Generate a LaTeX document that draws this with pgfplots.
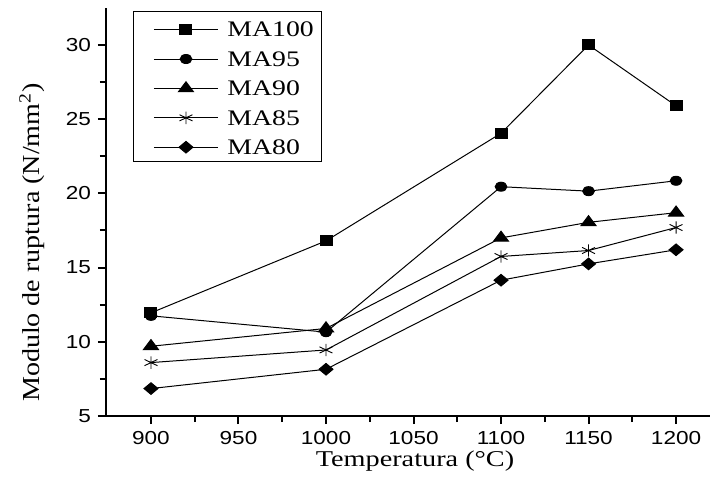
\documentclass[border=0pt]{standalone}
\usepackage{fontspec}
\setmainfont{Liberation Serif}[FakeStretch=1.25]
\newfontfamily\ylfont{Liberation Serif}[FakeStretch=1.15]
\newfontfamily\tickfont{Liberation Sans}[FakeStretch=1.2]
\usepackage{pgfplots}
\usepackage{pgfplotstable}
\pgfplotsset{compat=1.18}
\pgfplotstableread{
T    MAa    MAb    MAc    MAd    MAe
900  11.95  11.75  9.7    8.6    6.85
1000 16.8   10.65  10.9   9.45   8.15
1100 24.05  20.45  17.0   15.75  14.15
1150 30.0   20.15  18.05  16.15  15.25
1200 25.9   20.85  18.7   17.7   16.2
}\datatable
\begin{document}
\begin{tikzpicture}
\begin{axis}[
  name=ax,
  scale only axis,
  width=302pt, height=204pt,
  xmin=874.3, xmax=1219.4,
  ymin=5, ymax=32.49,
  axis x line*=bottom, axis y line*=left,
  axis line style={-, line width=1.4pt},
  xtick={900,950,...,1200},
  ytick={5,10,...,30},
  minor x tick num=1, minor y tick num=1,
  tick align=outside,
  major tick length=4pt, minor tick length=3pt,
  every tick/.style={black, line width=1pt},
  /pgf/number format/assume math mode=true,
  /pgf/number format/1000 sep={},
  tick label style={font=\tickfont\fontsize{9.4}{11}\selectfont},
  xlabel={Temperatura (°C)},
  ylabel={\ylfont Modulo de ruptura (N/mm\textsuperscript{2})},
  every axis x label/.style={at={(axis description cs:0.5116,-0.124)}, anchor=base, font=\fontsize{11.3}{13}\selectfont},
  every axis y label/.style={at={(axis description cs:-0.1225,0.425)}, rotate=90, anchor=center, font=\fontsize{12.2}{14}\selectfont},
  legend cell align=left,
  legend style={at={(axis description cs:0.0447,0.9936)}, anchor=north west,
    draw=black, line width=0.5pt, inner xsep=4pt, inner ysep=2.4pt,
    font=\fontsize{11.1}{13}\selectfont,
    nodes={inner sep=0pt, text height=10.5pt, text depth=1pt},
    row sep=3.2pt, column sep=4.5pt},
  legend image code/.code={%
    \path (-6pt,0pt);
    \draw[mark repeat=2,mark phase=2] plot coordinates {(0pt,-1.1pt) (16pt,-1.1pt) (32pt,-1.1pt)};},
  every axis plot/.append style={black, line width=0.5pt},
]
\addplot[mark=square*, mark size=2.5pt, mark options={xscale=1.2, solid}] table[x=T, y=MAa] {\datatable};
\addlegendentry{MA100}
\addplot[mark=*, mark size=2.25pt, mark options={xscale=1.3}] table[x=T, y=MAb] {\datatable};
\addlegendentry{MA95}
\addplot[mark=triangle*, mark size=3.33pt, mark options={xscale=1.3}] table[x=T, y=MAc] {\datatable};
\addlegendentry{MA90}
\addplot[mark=asterisk, mark size=3.1pt, mark options={xscale=1.2, line width=0.45pt}] table[x=T, y=MAd] {\datatable};
\addlegendentry{MA85}
\addplot[mark=diamond*, mark size=2.9pt, mark options={xscale=1.6}] table[x=T, y=MAe] {\datatable};
\addlegendentry{MA80}
\end{axis}
\pgfresetboundingbox
\path ([xshift=-53pt,yshift=-31pt]ax.south west) rectangle ([yshift=4pt]ax.north east);
\end{tikzpicture}
\end{document}
